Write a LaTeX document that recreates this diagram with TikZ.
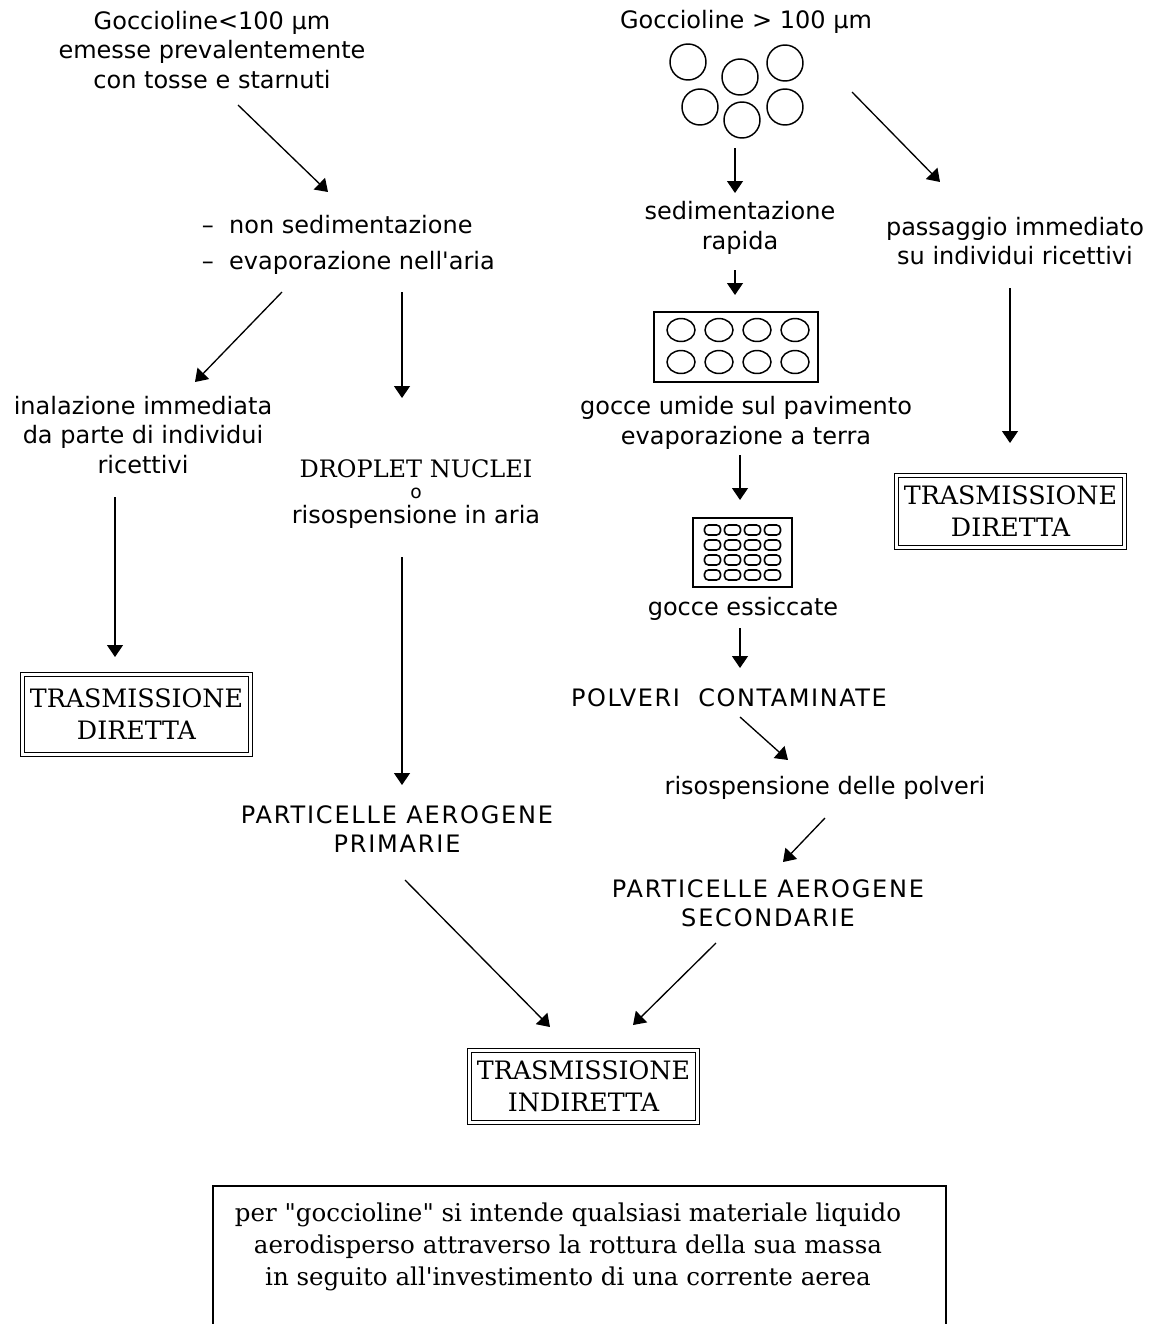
\documentclass[tikz,border=0pt]{standalone}
\usepackage{fontspec}
\newfontfamily\sansf{DejaVu Sans}
\newfontfamily\serf{DejaVu Serif}
\usetikzlibrary{arrows.meta,positioning}

\begin{document}
\begin{tikzpicture}[x=0.75pt, y=-0.75pt,
  txt/.style={font=\sansf\fontsize{18}{22}\selectfont, align=center, inner sep=2pt},
  caps/.style={txt, font=\sansf\fontsize{18}{22}\selectfont\addfontfeature{LetterSpace=6.5}},
  serif/.style={font=\serf\fontsize{18}{22}\selectfont, align=center, inner sep=2pt},
  result/.style={draw, double, double distance=2.2pt, line width=0.9pt,
                 font=\serf\fontsize{19}{24}\selectfont, align=center,
                 minimum width=171pt, minimum height=54pt, inner sep=2pt},
  tray/.style={draw, line width=1.2pt, inner sep=0pt},
  drop/.style={draw, circle, line width=1.1pt, minimum size=27pt, inner sep=0pt},
  arr/.style={-{Triangle[length=9pt,width=12pt]}, line width=1pt}
]
\useasboundingbox (0,0) rectangle (1159,1324);

% left branch: small droplets
\node[txt] (gl) at (212,50) {Goccioline<100 µm\\emesse prevalentemente\\con tosse e starnuti};
\node[txt, anchor=west, align=left] (nonsed) at (199,245)
  {–\ \ non sedimentazione\\[5pt]–\ \ evaporazione nell'aria};
\node[txt] (inal) at (143,435) {inalazione immediata\\da parte di individui\\ricettivi};
\node[serif] (dn) at (416,494)
  {DROPLET NUCLEI\\[-6pt]{\sansf\fontsize{14}{14}\selectfont o}\\[-3pt]{\sansf\fontsize{18}{22}\selectfont risospensione in aria}};
\node[result, minimum height=60pt] (ldir) at (136.5,714.5) {TRASMISSIONE\\DIRETTA};
\node[caps, font=\sansf\fontsize{18}{22}\selectfont\addfontfeature{LetterSpace=7.5}] (pap) at (397,829)
  {PARTICELLE AEROGENE\\PRIMARIE};

% right branch: large droplets
\node[txt] (gr) at (746,22) {Goccioline > 100 µm};
\node[drop] (c1) at (688,62) {};
\node[drop] (c2) at (740,77) {};
\node[drop] (c3) at (785,63) {};
\node[drop] (c4) at (700,107) {};
\node[drop] (c5) at (742,120) {};
\node[drop] (c6) at (785,107) {};
\node[txt] (sed) at (740,228) {sedimentazione\\rapida};
\node[txt] (pass) at (1015,241) {passaggio immediato\\su individui ricettivi};
\node[result] (rdir) at (1010.5,511.5) {TRASMISSIONE\\DIRETTA};

\node[tray, minimum width=123pt, minimum height=52.5pt] (wet) at (736,347) {};
\foreach \i in {0,...,3}
  \foreach \j in {0,1}
    \draw[line width=1.1pt] ([shift={(\i*38-55,\j*32-17)}]wet.center)
      ellipse [x radius=10.5pt, y radius=8.6pt];
\node[txt] (umide) at (746,423) {gocce umide sul pavimento\\evaporazione a terra};

\node[tray, minimum width=74pt, minimum height=52pt] (dry) at (742.5,552.5) {};
\foreach \i in {0,...,3}
  \foreach \j in {0,...,3}
    \draw[line width=1.2pt, rounded corners=3pt]
      ([shift={(\i*20-38,\j*15-27.5)}]dry.center) rectangle +(16,10);
\node[txt] (ess) at (743,609) {gocce essiccate};
\node[caps] (polv) at (729,698) {POLVERI\ \ CONTAMINATE};
\node[txt] (risp) at (825,788) {risospensione delle polveri};
\node[caps, font=\sansf\fontsize{18}{22}\selectfont\addfontfeature{LetterSpace=7.5}] (pas) at (768,903)
  {PARTICELLE AEROGENE\\SECONDARIE};

\node[result] (ind) at (583.5,1086.5) {TRASMISSIONE\\INDIRETTA};

% connectors
\draw[arr] ([shift={(26,55)}]gl.center) -- ([shift={(129,-53)}]nonsed.west);
\draw[arr] ([shift={(83,47)}]nonsed.west) -- ([shift={(52,-53)}]inal.center);
\draw[arr] ([shift={(203,47)}]nonsed.west) -- ([shift={(-14,-96)}]dn.center);
\draw[arr] ([shift={(-28,62)}]inal.center) -- ([shift={(-21.5,-57.5)}]ldir.center);
\draw[arr] ([shift={(-14,63)}]dn.center) -- ([shift={(5,-44)}]pap.center);
\draw[arr] ([shift={(8,51)}]pap.center) -- ([shift={(-33.5,-59.5)}]ind.center);
\draw[arr] ([shift={(-7,28)}]c5.center) -- ([shift={(-5,-35)}]sed.center);
\draw[arr] ([shift={(67,-15)}]c6.center) -- ([shift={(-75,-59)}]pass.center);
\draw[arr] ([shift={(-5,42)}]sed.center) -- ([shift={(-1,-52)}]wet.center);
\draw[arr] ([shift={(-5,47)}]pass.center) -- ([shift={(-0.5,-68.5)}]rdir.center);
\draw[arr] ([shift={(-6,32)}]umide.center) -- ([shift={(-2.5,-52.5)}]dry.center);
\draw[arr] ([shift={(-3,19)}]ess.center) -- ([shift={(11,-30)}]polv.center);
\draw[arr] ([shift={(11,19)}]polv.center) -- ([shift={(-37,-28)}]risp.center);
\draw[arr] ([shift={(0,30)}]risp.center) -- ([shift={(15,-41)}]pas.center);
\draw[arr] ([shift={(-52,40)}]pas.center) -- ([shift={(49.5,-61.5)}]ind.center);

% definition note, frame runs off the bottom edge
\node[font=\serf\fontsize{18.4}{24}\selectfont, align=center] (note) at (568,1247)
  {per \symbol{"22}goccioline\symbol{"22} si intende qualsiasi materiale liquido\\
   aerodisperso attraverso la rottura della sua massa\\
   in seguito all\symbol{"27}investimento di una corrente aerea};
\draw[line width=1.1pt] ([shift={(-355,83)}]note.center) -- ([shift={(-355,-61)}]note.center)
  -- ([shift={(378,-61)}]note.center) -- ([shift={(378,83)}]note.center);
\end{tikzpicture}
\end{document}
